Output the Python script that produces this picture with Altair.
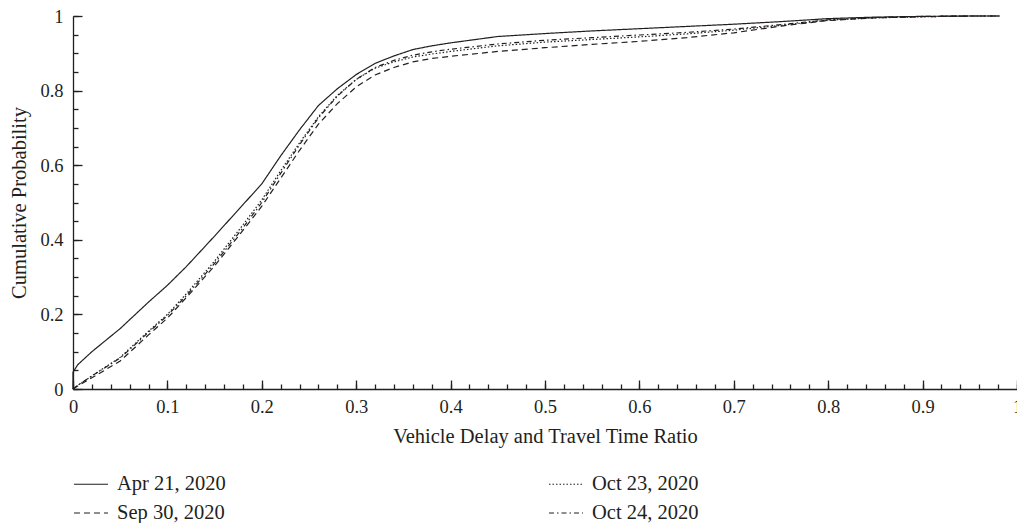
import altair as alt
import pandas as pd

# ---- data ----
x_grid = [0.0, 0.0, 0.005, 0.02, 0.05, 0.08, 0.1, 0.12, 0.15, 0.18, 0.2, 0.22, 0.24, 0.26,
          0.28, 0.3, 0.32, 0.34, 0.36, 0.38, 0.4, 0.45, 0.5, 0.55, 0.6, 0.65, 0.7, 0.75,
          0.8, 0.85, 0.9, 0.95, 0.982]

apr21 = [0.0, 0.045, 0.065, 0.10, 0.162, 0.233, 0.278, 0.328, 0.41, 0.494, 0.55, 0.625, 0.695,
         0.76, 0.805, 0.843, 0.873, 0.893, 0.91, 0.92, 0.928, 0.945, 0.953, 0.96, 0.966,
         0.972, 0.978, 0.985, 0.993, 0.997, 0.999, 1.0, 1.0]
sep30 = [0.0, 0.0, 0.008, 0.03, 0.075, 0.145, 0.19, 0.245, 0.33, 0.425, 0.49, 0.565, 0.64,
         0.71, 0.765, 0.81, 0.842, 0.862, 0.877, 0.886, 0.892, 0.905, 0.915, 0.924, 0.932,
         0.942, 0.955, 0.973, 0.988, 0.995, 0.998, 1.0, 1.0]
oct23 = [0.0, 0.0, 0.01, 0.035, 0.085, 0.155, 0.2, 0.255, 0.343, 0.44, 0.507, 0.585, 0.66,
         0.73, 0.787, 0.83, 0.86, 0.877, 0.89, 0.898, 0.905, 0.92, 0.93, 0.937, 0.944,
         0.952, 0.962, 0.975, 0.989, 0.995, 0.998, 1.0, 1.0]
oct24 = [0.0, 0.0, 0.01, 0.035, 0.083, 0.152, 0.197, 0.25, 0.337, 0.432, 0.5, 0.578, 0.655,
         0.727, 0.785, 0.83, 0.862, 0.881, 0.895, 0.904, 0.911, 0.925, 0.935, 0.942, 0.949,
         0.956, 0.965, 0.977, 0.99, 0.996, 0.999, 1.0, 1.0]

series_names = ["Apr 21, 2020", "Sep 30, 2020", "Oct 23, 2020", "Oct 24, 2020"]
series_values = [apr21, sep30, oct23, oct24]
dash_patterns = [[1, 0], [6, 4], [1.5, 2], [5, 3, 1.5, 3]]

x_major = [0, 0.1, 0.2, 0.3, 0.4, 0.5, 0.6, 0.7, 0.8, 0.9, 1]
x_minor = [round(i * 0.02, 2) for i in range(51)]
y_major = [0, 0.2, 0.4, 0.6, 0.8, 1]
y_minor = [round(i * 0.05, 2) for i in range(21)]

x_title = "Vehicle Delay and Travel Time Ratio"
y_title = "Cumulative Probability"

# ---- build table ----
rows = []
for name, vals in zip(series_names, series_values):
    for i, (xv, yv) in enumerate(zip(x_grid, vals)):
        rows.append({"series": name, "x": xv, "y": yv, "i": i})
df = pd.DataFrame(rows)

INK = "#231f20"
FONT = "Liberation Serif"
W, H = 944, 373

xs = alt.Scale(domain=[0, 1], nice=False, zero=False)
ys = alt.Scale(domain=[0, 1], nice=False, zero=False)

ax_x_labels = alt.Axis(orient="bottom", values=x_major, format="~g", ticks=False, domain=False,
                       grid=False, labelFont=FONT, labelFontSize=18.5, labelColor=INK,
                       labelPadding=8, labelFlush=False, title=x_title, titleFont=FONT,
                       titleFontSize=20.5, titleFontWeight="normal", titleColor=INK, titlePadding=11)
ax_x_major = alt.Axis(orient="top", offset=-H, values=x_major, labels=False, ticks=True, tickSize=9,
                      tickColor=INK, tickWidth=1.3, domain=True, domainColor=INK,
                      domainWidth=1.3, grid=False, title=None)
ax_x_minor = alt.Axis(orient="top", offset=-H, values=x_minor, labels=False, ticks=True, tickSize=5,
                      tickColor=INK, tickWidth=1.3, domain=False, grid=False, title=None)

ax_y_labels = alt.Axis(orient="left", values=y_major, format="~g", ticks=False, domain=False,
                       grid=False, labelFont=FONT, labelFontSize=18.5, labelColor=INK,
                       labelPadding=10, labelFlush=False, title=y_title, titleFont=FONT,
                       titleFontSize=20.5, titleFontWeight="normal", titleColor=INK, titlePadding=10)
ax_y_major = alt.Axis(orient="right", offset=-W, values=y_major, labels=False, ticks=True, tickSize=9,
                      tickColor=INK, tickWidth=1.3, domain=True, domainColor=INK,
                      domainWidth=1.3, grid=False, title=None)
ax_y_minor = alt.Axis(orient="right", offset=-W, values=y_minor, labels=False, ticks=True, tickSize=5,
                      tickColor=INK, tickWidth=1.3, domain=False, grid=False, title=None)

base = alt.Chart(df)

lines = base.mark_line(color=INK, strokeWidth=1.2).encode(
    x=alt.X("x:Q", scale=xs, axis=ax_x_labels),
    y=alt.Y("y:Q", scale=ys, axis=ax_y_labels),
    strokeDash=alt.StrokeDash(
        "series:N",
        scale=alt.Scale(domain=series_names, range=dash_patterns),
        sort=series_names,
        legend=alt.Legend(orient="none", legendX=0, legendY=450, columns=2,
                          columnPadding=320, rowPadding=-1, title=None,
                          labelFont=FONT, labelFontSize=20.5, labelColor=INK,
                          labelOffset=8, symbolType="stroke", symbolSize=1156,
                          symbolStrokeWidth=1.2, symbolStrokeColor=INK),
    ),
    order="i:Q",
)

major_layer = base.mark_point(opacity=0, size=1).encode(
    x=alt.X("x:Q", scale=xs, axis=ax_x_major),
    y=alt.Y("y:Q", scale=ys, axis=ax_y_major),
)
minor_layer = base.mark_point(opacity=0, size=1).encode(
    x=alt.X("x:Q", scale=xs, axis=ax_x_minor),
    y=alt.Y("y:Q", scale=ys, axis=ax_y_minor),
)

chart = alt.layer(lines, major_layer, minor_layer).resolve_axis(
    x="independent", y="independent"
).properties(
    width=W, height=H,
    background="white",
    view=alt.ViewBackground(stroke="transparent", strokeWidth=0),
    autosize=alt.AutoSizeParams(type="none"),
    padding={"left": 65, "top": 8, "right": 0, "bottom": 134},
).configure_view(
    stroke="transparent", strokeWidth=0
).configure_axis(
    grid=False, domain=False, gridColor="transparent"
)

chart.save("out.html", embed_options={"renderer": "svg", "actions": False})
